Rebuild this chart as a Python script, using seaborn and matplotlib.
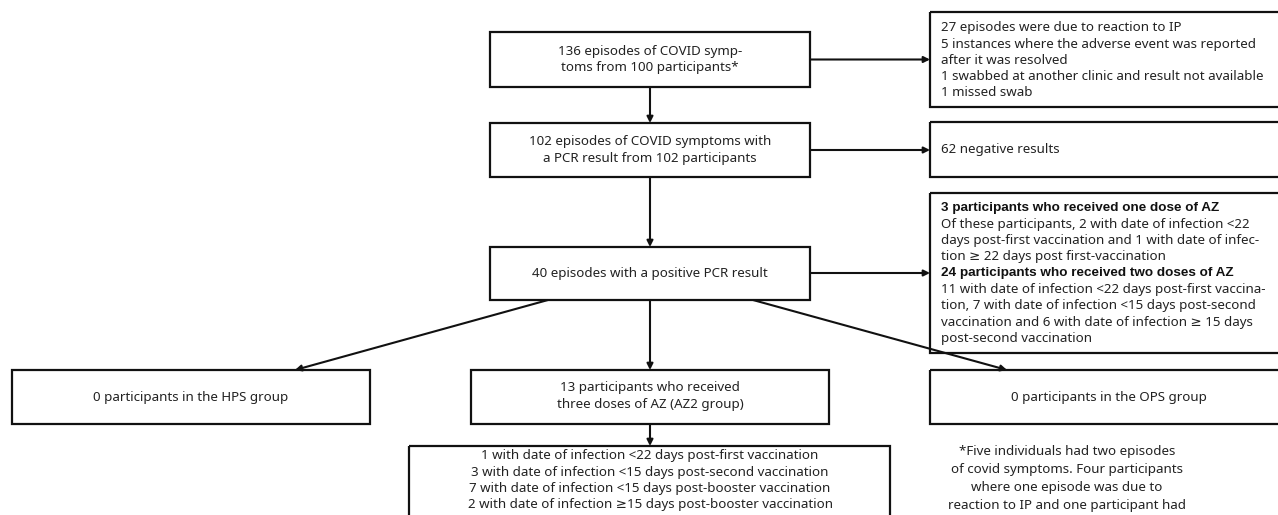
import matplotlib
matplotlib.use("Agg")
import matplotlib.pyplot as plt
import seaborn as sns
from matplotlib.patches import Rectangle

sns.set_theme(style="white")
plt.rcParams['font.family'] = ['Noto Sans', 'DejaVu Sans']

# box texts
start_lines = ["136 episodes of COVID symp-", "toms from 100 participants*"]
pcr_lines = ["102 episodes of COVID symptoms with", "a PCR result from 102 participants"]
positive_lines = ["40 episodes with a positive PCR result"]
excluded_lines = [
    "27 episodes were due to reaction to IP",
    "5 instances where the adverse event was reported",
    "after it was resolved",
    "1 swabbed at another clinic and result not available",
    "1 missed swab",
]
negative_lines = ["62 negative results"]
az_lines = [
    "3 participants who received one dose of AZ",
    "Of these participants, 2 with date of infection <22",
    "days post-first vaccination and 1 with date of infec-",
    "tion \u2265 22 days post first-vaccination",
    "24 participants who received two doses of AZ",
    "11 with date of infection <22 days post-first vaccina-",
    "tion, 7 with date of infection <15 days post-second",
    "vaccination and 6 with date of infection \u2265 15 days",
    "post-second vaccination",
]
az_bold = [0, 4]
hps_lines = ["0 participants in the HPS group"]
az2_lines = ["13 participants who received", "three doses of AZ (AZ2 group)"]
ops_lines = ["0 participants in the OPS group"]
az2_detail_lines = [
    "1 with date of infection <22 days post-first vaccination",
    "3 with date of infection <15 days post-second vaccination",
    "7 with date of infection <15 days post-booster vaccination",
    "2 with date of infection \u226515 days post-booster vaccination",
]
footnote_lines = [
    "*Five individuals had two episodes",
    "of covid symptoms. Four participants",
    "where one episode was due to",
    "reaction to IP and one participant had",
    "a missed swab for one of the events.",
]

# layout in pixels (x0, y0, x1, y1), y from top
boxes = {
    "start": (490, 32, 810, 87),
    "pcr": (490, 123, 810, 177),
    "positive": (490, 247, 810, 300),
    "excluded": (930, 12, 1290, 107),
    "negative": (930, 122, 1290, 177),
    "az": (930, 193, 1290, 353),
    "hps": (12, 370, 370, 424),
    "az2": (471, 370, 829, 424),
    "ops": (930, 370, 1288, 424),
    "az2_detail": (409, 446, 890, 540),
}

ink = "#222222"
fs = 9.6

fig = plt.figure(figsize=(12.78, 5.15), dpi=100)
ax = fig.add_axes([0, 0, 1, 1])
ax.set_xlim(0, 1278)
ax.set_ylim(515, 0)
ax.axis("off")

for x0, y0, x1, y1 in boxes.values():
    ax.add_patch(Rectangle((x0, y0), x1 - x0, y1 - y0, fill=False,
                           edgecolor="#111111", lw=1.6, clip_on=False))


def centered(lines, box, step=16.5, dy=0):
    x0, y0, x1, y1 = box
    cx = (x0 + x1) / 2
    cy = (y0 + y1) / 2 + dy
    first = cy - step * (len(lines) - 1) / 2
    for i, s in enumerate(lines):
        ax.text(cx, first + i * step, s, ha="center", va="center",
                fontsize=fs, color=ink)


def left(lines, x, first, step=16.3, bold=()):
    for i, s in enumerate(lines):
        if i in bold:
            ax.text(x, first + i * step, s, ha="left", va="center",
                    fontsize=fs + 0.1, color="#111111", fontweight="bold",
                    family=["Liberation Sans", "DejaVu Sans"])
        else:
            ax.text(x, first + i * step, s, ha="left", va="center",
                    fontsize=fs, color=ink)


centered(start_lines, boxes["start"])
centered(pcr_lines, boxes["pcr"])
centered(positive_lines, boxes["positive"])
centered(hps_lines, boxes["hps"])
centered(az2_lines, boxes["az2"], dy=-1)
ax.text(1109, 397, ops_lines[0], ha="center", va="center", fontsize=fs, color=ink)
left(excluded_lines, 941, 28, step=16.2)
left(negative_lines, 941, 150)
left(az_lines, 941, 208, bold=az_bold)
for i, s in enumerate(az2_detail_lines):
    ax.text(650, 456 + i * 16.2, s, ha="center", va="center", fontsize=fs, color=ink)
for i, s in enumerate(footnote_lines):
    ax.text(1067, 452 + i * 17.7, s, ha="center", va="center", fontsize=fs, color=ink)

arrows = [
    ((650, 87), (650, 123)),
    ((650, 177), (650, 247)),
    ((810, 59.5), (930, 59.5)),
    ((810, 150), (930, 150)),
    ((810, 273), (930, 273)),
    ((650, 300), (650, 370)),
    ((650, 424), (650, 446)),
    ((548, 300), (295, 370)),
    ((753, 300), (1007, 370)),
]
for (xa, ya), (xb, yb) in arrows:
    ax.annotate("", xy=(xb, yb), xytext=(xa, ya),
                arrowprops=dict(arrowstyle="-|>", color="#111111", lw=1.5,
                                mutation_scale=9, shrinkA=0, shrinkB=0))

fig.savefig("out.png", dpi=100, facecolor="white")
